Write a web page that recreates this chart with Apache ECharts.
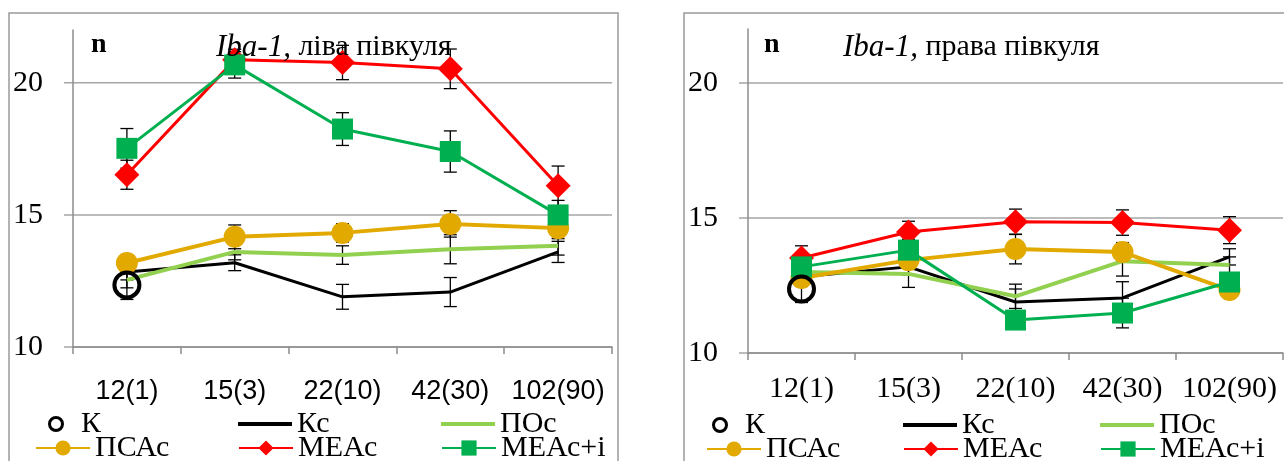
<!DOCTYPE html>
<html>
<head>
<meta charset="utf-8">
<script src="https://cdn.jsdelivr.net/npm/echarts@6/dist/echarts.min.js"></script>
<style>
	html, body { margin: 0; padding: 0; background: #fff; }
	#main { width: 1284px; height: 461px; }
</style>
</head>
<body>
<div id="main"></div>
<script>
var categories = ['12(1)', '15(3)', '22(10)', '42(30)', '102(90)'];
var gridValues = [10, 15, 20];
var names = ['К', 'Кс', 'ПОс', 'ПСАс', 'МЕАс', 'МЕАс+і'];

// ліва півкуля
var leftK = [12.35, null, null, null, null];
var leftKErr = [0.55, 0, 0, 0, 0];
var leftKc = [12.84, 13.19, 11.9, 12.08, 13.6];
var leftKcErr = [0.3, 0.3, 0.47, 0.55, 0.4];
var leftPOc = [12.54, 13.6, 13.48, 13.7, 13.83];
var leftPOcErr = [0.3, 0.3, 0.35, 0.55, 0.35];
var leftPSAc = [13.18, 14.17, 14.32, 14.66, 14.5];
var leftPSAcErr = [0.3, 0.45, 0.35, 0.5, 0.4];
var leftMEAc = [16.52, 20.87, 20.77, 20.53, 16.1];
var leftMEAcErr = [0.55, 0.4, 0.65, 0.75, 0.75];
var leftMEAci = [17.52, 20.68, 18.25, 17.4, 15.0];
var leftMEAciErr = [0.75, 0.5, 0.62, 0.78, 0.55];

// права півкуля
var rightK = [12.37, null, null, null, null];
var rightKErr = [0.5, 0, 0, 0, 0];
var rightKc = [12.82, 13.19, 11.89, 12.04, 13.56];
var rightKcErr = [0.3, 0.3, 0.48, 0.6, 0.3];
var rightPOc = [13.0, 12.93, 12.1, 13.4, 13.26];
var rightPOcErr = [0.3, 0.5, 0.45, 0.55, 0.3];
var rightPSAc = [12.78, 13.44, 13.85, 13.74, 12.33];
var rightPSAcErr = [0.3, 0.3, 0.55, 0.35, 0.3];
var rightMEAc = [13.52, 14.48, 14.86, 14.83, 14.55];
var rightMEAcErr = [0.45, 0.4, 0.47, 0.47, 0.5];
var rightMEAci = [13.19, 13.81, 11.22, 11.48, 12.63];
var rightMEAciErr = [0.3, 0.4, 0.3, 0.55, 0.3];

var SERIF = "'Liberation Serif', 'Times New Roman', serif";
var colors = ['#000000', '#000000', '#92D050', '#E2AA00', '#FF0000', '#00B050'];

var panels = [
	{
		title: ' ліва півкуля', titleLeft: 211, nLeft: 86,
		grid: { left: 73, top: 30, width: 539, height: 317 },
		xFont: "'Liberation Sans', Arial, sans-serif", xSize: 27, xMargin: 31,
		values: [leftK, leftKc, leftPOc, leftPSAc, leftMEAc, leftMEAci],
		errors: [leftKErr, leftKcErr, leftPOcErr, leftPSAcErr, leftMEAcErr, leftMEAciErr],
		border: [9, 13, 609],
		legend: [[48, 424], [238, 424], [441, 424], [35, 448], [238, 448], [441, 448]]
	},
	{
		title: ' права півкуля', titleLeft: 838, nLeft: 759,
		grid: { left: 748, top: 29, width: 535, height: 324 },
		xFont: SERIF, xSize: 30, xMargin: 21,
		values: [rightK, rightKc, rightPOc, rightPSAc, rightMEAc, rightMEAci],
		errors: [rightKErr, rightKcErr, rightPOcErr, rightPSAcErr, rightMEAcErr, rightMEAciErr],
		border: [684, 13, 700],
		legend: [[712, 425], [903, 425], [1100, 425], [706, 449], [903, 449], [1100, 449]]
	}
];

var grids = [], xAxes = [], yAxes = [], series = [], titles = [], legends = [], graphics = [];

panels.forEach(function(p, idx){
	grids.push(p.grid);
	xAxes.push({
		type: 'category', gridIndex: idx, data: categories, boundaryGap: true,
		axisLine: { onZero: false, lineStyle: { color: '#8c8c8c', width: 1.5 } },
		axisTick: { show: true, length: 7, lineStyle: { color: '#8c8c8c', width: 1.5 } },
		axisLabel: { interval: 0, margin: p.xMargin, color: '#000', fontFamily: p.xFont, fontSize: p.xSize },
		splitLine: { show: false }
	});
	yAxes.push({
		type: 'value', gridIndex: idx, min: 10, max: 22, interval: 5,
		axisLine: { show: true, lineStyle: { color: '#8c8c8c', width: 1.5 } },
		axisTick: { show: false },
		axisLabel: { showMaxLabel: false, margin: 30, color: '#000', fontFamily: SERIF, fontSize: 30 },
		splitLine: { show: false }
	});

	// horizontal grid lines
	series.push({
		type: 'custom', xAxisIndex: idx, yAxisIndex: idx, z: 0, silent: true,
		data: gridValues.map(function(v){ return [0, v]; }),
		renderItem: function(params, api){
			var y = api.coord([0, api.value(1)])[1];
			var cs = params.coordSys;
			return {
				type: 'line',
				shape: { x1: cs.x - 9, y1: y, x2: cs.x + cs.width, y2: y },
				style: { stroke: '#a6a6a6', lineWidth: 1.5 }
			};
		}
	});

	// error bars
	var rows = [];
	p.values.forEach(function(arr, s){
		arr.forEach(function(v, i){
			if(v != null){
				rows.push([i, v, p.errors[s][i]]);
			}
		});
	});
	series.push({
		type: 'custom', xAxisIndex: idx, yAxisIndex: idx, z: 1, silent: true,
		data: rows,
		renderItem: function(params, api){
			var x = api.value(0), m = api.value(1), e = api.value(2);
			var hi = api.coord([x, m + e]);
			var lo = api.coord([x, m - e]);
			var w = 6.5;
			var st = { stroke: '#000', lineWidth: 1.3 };
			return {
				type: 'group',
				children: [
					{ type: 'line', shape: { x1: hi[0], y1: hi[1], x2: lo[0], y2: lo[1] }, style: st },
					{ type: 'line', shape: { x1: hi[0] - w, y1: hi[1], x2: hi[0] + w, y2: hi[1] }, style: st },
					{ type: 'line', shape: { x1: lo[0] - w, y1: lo[1], x2: lo[0] + w, y2: lo[1] }, style: st }
				]
			};
		}
	});

	// К (open circle)
	series.push({
		name: names[0], type: 'scatter', xAxisIndex: idx, yAxisIndex: idx, z: 5,
		data: p.values[0], symbol: 'circle', symbolSize: 25,
		itemStyle: { color: 'rgba(0,0,0,0)', borderColor: '#000', borderWidth: 4, opacity: 1 }
	});
	// lines
	var symbols = [null, 'none', 'none', 'circle', 'diamond', 'rect'];
	var sizes = [0, 0, 0, 22, 25, 21];
	var widths = [0, 3, 4, 4, 3, 3];
	for(var s = 1; s < 6; s++){
		series.push({
			name: names[s], type: 'line', xAxisIndex: idx, yAxisIndex: idx, z: 2,
			data: p.values[s],
			symbol: symbols[s], symbolSize: sizes[s], showSymbol: symbols[s] != 'none',
			itemStyle: { color: colors[s] },
			lineStyle: { color: colors[s], width: widths[s] },
			emphasis: { disabled: true }
		});
	}

	titles.push({
		text: '{i|Iba-1,}{r|' + p.title + '}',
		left: p.titleLeft, top: 27,
		textStyle: {
			fontWeight: 'normal',
			rich: {
				i: { fontFamily: SERIF, fontStyle: 'italic', fontWeight: 'normal', fontSize: 31, color: '#000' },
				r: { fontFamily: SERIF, fontWeight: 'normal', fontSize: 30, color: '#000' }
			}
		}
	});
	titles.push({
		text: 'n', left: p.nLeft, top: 26,
		textStyle: { fontFamily: SERIF, fontWeight: 'bold', fontSize: 28, color: '#000' }
	});

	// legend, one item per component
	p.legend.forEach(function(pos, s){
		var lg = {
			left: pos[0], top: pos[1] - 15, padding: 0, itemGap: 0,
			textStyle: { fontFamily: SERIF, fontSize: 30, lineHeight: 30, color: '#000' },
			itemWidth: 54, itemHeight: 19,
			data: [names[s]]
		};
		if(s == 0){
			lg.itemWidth = 40;
			lg.itemHeight = 13;
			lg.itemStyle = { color: 'rgba(0,0,0,0)', borderColor: '#000', borderWidth: 3 };
		} else if(s == 1 || s == 2){
			lg.itemHeight = 4;
			lg.data = [{ name: names[s], icon: 'rect' }];
		}
		legends.push(lg);
	});

	graphics.push({
		type: 'rect', silent: true, z: -1,
		shape: { x: p.border[0], y: p.border[1], width: p.border[2], height: 480 },
		style: { fill: null, stroke: '#9a9a9a', lineWidth: 1.5 }
	});
});

var myChart = echarts.init(document.getElementById('main'));
myChart.setOption({
	animation: false,
	backgroundColor: '#fff',
	title: titles,
	legend: legends,
	grid: grids,
	xAxis: xAxes,
	yAxis: yAxes,
	graphic: graphics,
	series: series
});
</script>
</body>
</html>
